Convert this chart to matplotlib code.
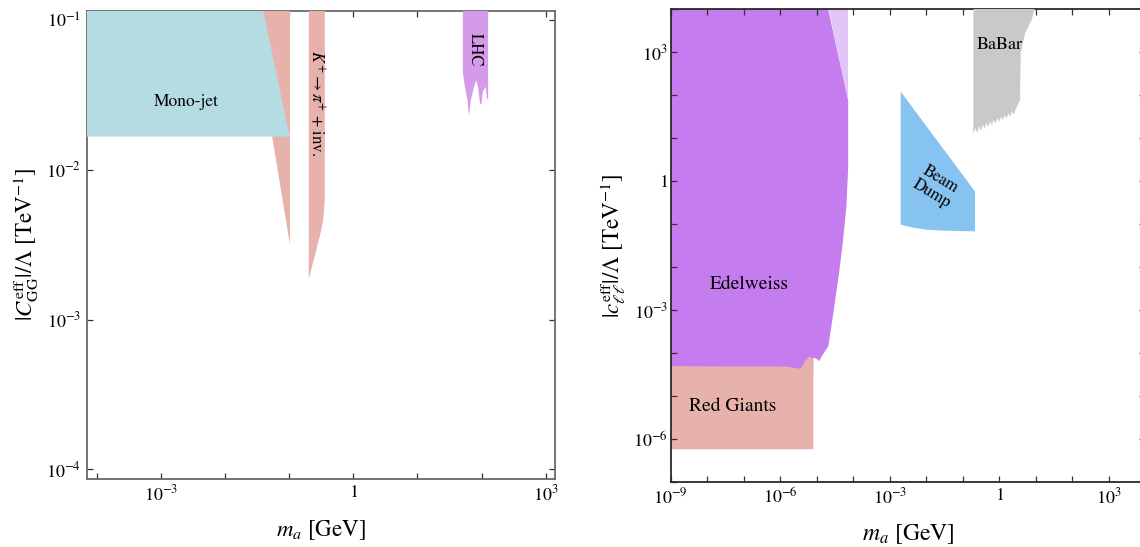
import numpy as np
import matplotlib
matplotlib.use("Agg")
import matplotlib.pyplot as plt
from matplotlib.ticker import FixedLocator, FuncFormatter

plt.rcParams['font.family'] = ['STIXGeneral', 'DejaVu Serif']
plt.rcParams['mathtext.fontset'] = 'stix'

# ---------------- data (log10 coordinates) -------------
# Left panel: |C_GG| vs m_a
mono_jet_logx = [-4.5, -1.416, -0.99, -4.5]
mono_jet_logy = [-0.92, -0.92, -1.779, -1.779]

pink_a_logx = [-1.592, -0.99, -0.99]
pink_a_logy = [-0.92, -0.92, -2.502]

kpi_logx = [-0.694, -0.444, -0.444, -0.469, -0.511, -0.589, -0.694]
kpi_logy = [-0.92, -0.92, -2.202, -2.335, -2.424, -2.557, -2.731]

lhc_logx = [1.708, 2.103, 2.103, 2.083, 2.067, 2.02, 2.0, 1.98, 1.948, 1.917,
            1.885, 1.833, 1.802, 1.781, 1.739, 1.708]
lhc_logy = [-0.92, -0.92, -1.534, -1.523, -1.445, -1.479, -1.556, -1.567, -1.456,
            -1.401, -1.445, -1.534, -1.641, -1.534, -1.445, -1.345]

# Right panel: |c_ll| vs m_a
edel_logx = [-9.5, -4.70, -4.137, -4.137, -4.186, -4.287, -4.387, -4.55, -4.68,
             -4.86, -4.93, -5.0, -5.093, -5.093, -9.5]
edel_logy = [4.05, 4.05, 1.893, 0.345, -0.584, -1.434, -2.13, -3.1, -3.83,
             -4.07, -4.18, -4.13, -4.10, -4.5, -4.5]

edel_light_logx = [-4.70, -4.137, -4.137]
edel_light_logy = [4.05, 4.05, 1.893]

rg_logx = [-9.5, -5.093, -5.093, -5.20, -5.32, -5.41, -5.50, -5.8, -9.5]
rg_logy = [-6.232, -6.232, -4.127, -4.08, -4.18, -4.33, -4.36, -4.31, -4.298]

bd_logx = [-2.699, -2.699, -2.353, -1.986, -1.53, -0.663, -0.663, -0.80, -2.699]
bd_logy = [2.086, -1.009, -1.079, -1.125, -1.148, -1.164, -0.236, -0.08, 2.086]

babar_logx = [-0.707, 0.98, 0.89, 0.707, 0.589, 0.57, 0.446, 0.40, 0.35, 0.30,
              0.25, 0.20, 0.15, 0.10, 0.05, 0.0, -0.05, -0.10, -0.15, -0.20,
              -0.25, -0.30, -0.35, -0.40, -0.45, -0.50, -0.55, -0.60, -0.65, -0.707]
babar_logy = [4.05, 4.05, 3.75, 3.44, 2.977, 1.893, 1.66, 1.55, 1.63, 1.50,
              1.58, 1.45, 1.54, 1.42, 1.50, 1.38, 1.47, 1.34, 1.43, 1.30,
              1.40, 1.26, 1.36, 1.22, 1.32, 1.17, 1.28, 1.12, 1.24, 1.10]

left_xtick_labels = {-3: r'$10^{-3}$', 0: r'$1$', 3: r'$10^{3}$'}
left_ytick_labels = {-1: r'$10^{-1}$', -2: r'$10^{-2}$', -3: r'$10^{-3}$', -4: r'$10^{-4}$'}
right_xtick_labels = {-9: r'$10^{-9}$', -6: r'$10^{-6}$', -3: r'$10^{-3}$', 0: r'$1$', 3: r'$10^{3}$'}
right_ytick_labels = {-6: r'$10^{-6}$', -3: r'$10^{-3}$', 0: r'$1$', 3: r'$10^{3}$'}

# colours
C_MONO = '#b5dce3'
C_PINK = '#e7b2ac'
C_LHC = '#d49be9'
C_EDEL = '#c47cef'
C_EDEL_L = '#e2c6f7'
C_BD = '#87c3f0'
C_BABAR = '#c9c9c9'


def p(a):
    return 10.0 ** np.asarray(a)


fig = plt.figure(figsize=(11.4, 5.47), dpi=100)
W, H = 1140.0, 547.0
axL = fig.add_axes([86.7 / W, (H - 479) / H, (555 - 86.7) / W, (479 - 11) / H])
axR = fig.add_axes([670.7 / W, (H - 482.3) / H, (1145.2 - 670.7) / W, (482.3 - 9.3) / H])


def style(ax, xlabs, ylabs, xr, yr, spine_color):
    ax.set_xscale('log')
    ax.set_yscale('log')
    xt = [10.0 ** k for k in range(int(np.ceil(xr[0])), int(np.floor(xr[1])) + 1)]
    yt = [10.0 ** k for k in range(int(np.ceil(yr[0])), int(np.floor(yr[1])) + 1)]
    ax.xaxis.set_major_locator(FixedLocator(xt))
    ax.yaxis.set_major_locator(FixedLocator(yt))
    ax.xaxis.set_minor_locator(FixedLocator([]))
    ax.yaxis.set_minor_locator(FixedLocator([]))
    ax.xaxis.set_major_formatter(FuncFormatter(
        lambda v, pos: xlabs.get(int(round(np.log10(v))), '')))
    ax.yaxis.set_major_formatter(FuncFormatter(
        lambda v, pos: ylabs.get(int(round(np.log10(v))), '')))
    ax.set_xlim(10 ** xr[0], 10 ** xr[1])
    ax.set_ylim(10 ** yr[0], 10 ** yr[1])
    ax.tick_params(which='both', direction='in', top=True, right=True,
                   length=4, width=0.9, color='#333333', labelsize=13,
                   pad=4)
    for s in ax.spines.values():
        s.set_color(spine_color)
        s.set_linewidth(1.3)


style(axL, left_xtick_labels, left_ytick_labels, (-4.156, 3.145), (-4.065, -0.94), '#6a6a6a')
style(axR, right_xtick_labels, right_ytick_labels, (-9.0, 4.0), (-7.0, 4.0), '#2a2a2a')
axR.tick_params(axis='y', pad=2)

# ---- left panel regions
axL.fill(p(pink_a_logx), p(pink_a_logy), color=C_PINK, lw=0, zorder=3)
axL.fill(p(mono_jet_logx), p(mono_jet_logy), color=C_MONO, lw=0, zorder=3.2)
axL.fill(p(kpi_logx), p(kpi_logy), color=C_PINK, lw=0, zorder=3)
axL.fill(p(lhc_logx), p(lhc_logy), color=C_LHC, lw=0, zorder=3)

axL.text(10 ** -2.605, 10 ** -1.547, 'Mono-jet', fontsize=12.5, ha='center', va='center', zorder=5)
axL.text(10 ** -0.573, 10 ** -1.554, r'$K^{+}\rightarrow\pi^{+}$ + inv.', fontsize=12,
         rotation=-90, ha='center', va='center', zorder=5)
axL.text(10 ** 1.895, 10 ** -1.2, 'LHC', fontsize=12, rotation=-90,
         ha='center', va='center', zorder=5)

axL.set_xlabel(r'$m_a$ [GeV]', fontsize=16.5, labelpad=10)
axL.set_ylabel(r'$|C^{\rm eff}_{\rm GG}|/\Lambda$ [TeV$^{-1}$]', fontsize=16.5, labelpad=4)

# ---- right panel regions
axR.fill(p(edel_logx), p(edel_logy), color=C_EDEL, lw=0, zorder=1)
axR.fill(p(edel_light_logx), p(edel_light_logy), color=C_EDEL_L, lw=0, zorder=1)
axR.fill(p(rg_logx), p(rg_logy), color=C_PINK, lw=0, zorder=1.5)
axR.fill(p(bd_logx), p(bd_logy), color=C_BD, lw=0, zorder=1)
axR.fill(p(babar_logx), p(babar_logy), color=C_BABAR, lw=0, zorder=3)

axR.text(10 ** -6.855, 10 ** -2.40, 'Edelweiss', fontsize=14, ha='center', va='center', zorder=5)
axR.text(10 ** -7.29, 10 ** -5.226, 'Red Giants', fontsize=14, ha='center', va='center', zorder=5)
axR.text(10 ** 0.008, 10 ** 3.17, 'BaBar', fontsize=13, ha='center', va='center', zorder=5)
axR.text(10 ** -1.73, 10 ** -0.127, 'Beam\nDump', fontsize=12, rotation=-31,
         ha='center', va='center', linespacing=1.0, zorder=5, multialignment='center')

axR.set_xlabel(r'$m_a$ [GeV]', fontsize=17, labelpad=10)
axR.set_ylabel(r'$|c^{\rm eff}_{\ell\ell}|/\Lambda$ [TeV$^{-1}$]', fontsize=16.5, labelpad=4)

fig.savefig('out.png', dpi=100)
